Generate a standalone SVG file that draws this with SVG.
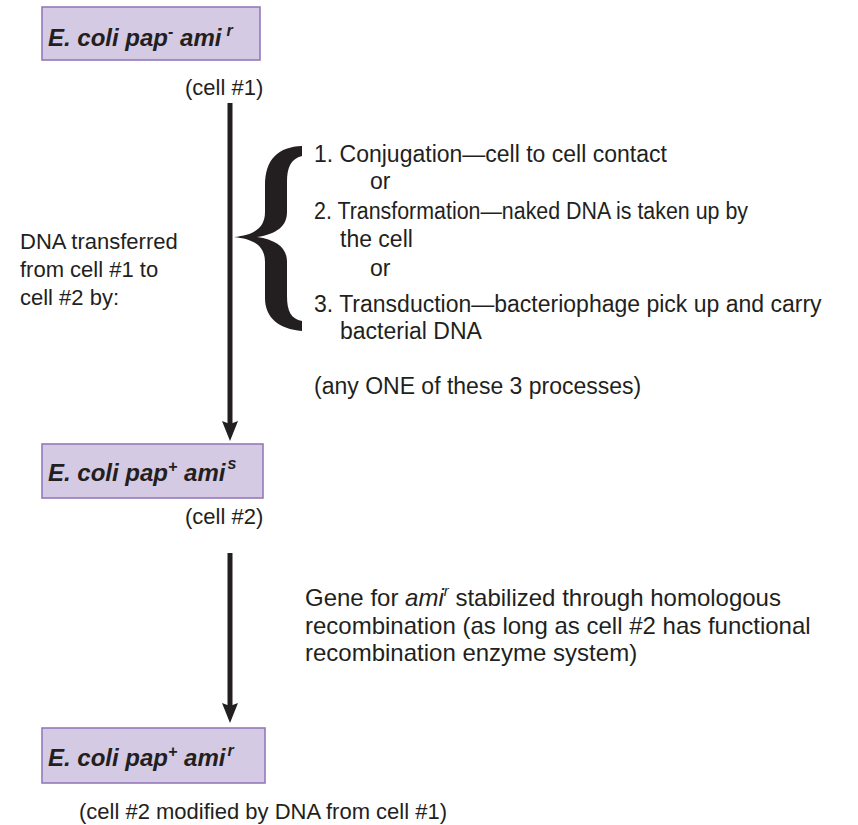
<svg xmlns="http://www.w3.org/2000/svg" width="858" height="825" viewBox="0 0 858 825">
<style>
.box{fill:#d5cae4;stroke:#9479bb;stroke-width:1.6}
.bt{font-family:"Liberation Sans",Arial,sans-serif;font-size:24px;font-weight:bold;font-style:italic;fill:#231f20}
.sup{font-size:16px}
.t{font-family:"Liberation Sans",Arial,sans-serif;font-size:22px;fill:#231f20}
.p{font-size:23px}
.g{font-size:24px}
.ln{stroke:#231f20;stroke-width:5;fill:none}
.ah{fill:#231f20}
</style>
<rect width="858" height="825" fill="#ffffff"/>
<g id="connectors">
<line class="ln" x1="230" y1="103" x2="230" y2="424"/>
<polygon class="ah" points="222,421 230,424 238,421 230,441"/>
<line class="ln" x1="230" y1="553" x2="230" y2="706"/>
<polygon class="ah" points="222,703 230,706 238,703 230,723"/>
</g>
<g id="cell1">
<rect class="box" x="42" y="7" width="218" height="53"/>
<text class="bt" x="48" y="46">E. coli pap<tspan class="sup" dy="-9">-</tspan><tspan dy="9"> ami</tspan><tspan class="sup" dx="5" dy="-10">r</tspan></text>
<text class="t" x="185" y="95">(cell #1)</text>
</g>
<g id="cell2">
<rect class="box" x="42" y="444" width="221" height="54"/>
<text class="bt" x="48" y="481">E. coli pap<tspan class="sup" dy="-9">+</tspan><tspan dy="9"> ami</tspan><tspan class="sup" font-size="18" dx="2" dy="-12">s</tspan></text>
<text class="t" x="185" y="524">(cell #2)</text>
</g>
<g id="cell3">
<rect class="box" x="42" y="728" width="223" height="55"/>
<text class="bt" x="48" y="766">E. coli pap<tspan class="sup" dy="-9">+</tspan><tspan dy="9"> ami</tspan><tspan class="sup" dx="2" dy="-10">r</tspan></text>
<text class="t" x="79" y="819">(cell #2 modified by DNA from cell #1)</text>
</g>
<g id="transfer-label">
<text class="t" x="20" y="249">DNA transferred</text>
<text class="t" x="20" y="277">from cell #1 to</text>
<text class="t" x="20" y="305">cell #2 by:</text>
</g>
<g id="brace">
<path fill="#231f20" d="M302,146 C279,147 265,158 265,186 L265,212 C265,228 254,235 234,237 C254,239 265,246 265,262 L265,298 C265,318 279,329 302,331 L302,321 C291,319 287,311 287,296 L287,262 C287,248 277,240 257,237 C277,234 287,226 287,212 L287,182 C287,167 291,159 302,156 Z"/>
</g>
<g id="processes">
<text class="t p" x="314" y="162">1. Conjugation—cell to cell contact</text>
<text class="t p" x="370" y="189">or</text>
<text class="t p" x="314" y="219" textLength="434" lengthAdjust="spacingAndGlyphs">2. Transformation—naked DNA is taken up by</text>
<text class="t p" x="340" y="247">the cell</text>
<text class="t p" x="370" y="276">or</text>
<text class="t p" x="314" y="312">3. Transduction—bacteriophage pick up and carry</text>
<text class="t p" x="340" y="339">bacterial DNA</text>
<text class="t p" x="314" y="394">(any ONE of these 3 processes)</text>
</g>
<g id="recombination-label">
<text class="t g" x="305" y="606">Gene for <tspan font-style="italic">ami</tspan><tspan font-style="italic" font-size="15" dy="-10">r</tspan><tspan dy="10"> stabilized through homologous</tspan></text>
<text class="t g" x="305" y="634">recombination (as long as cell #2 has functional</text>
<text class="t g" x="305" y="661">recombination enzyme system)</text>
</g>
</svg>
